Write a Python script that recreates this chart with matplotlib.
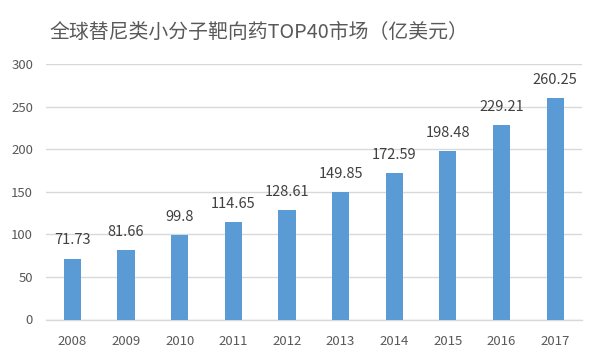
import numpy as np
import matplotlib as mplt
import matplotlib.pyplot as plt

years = ["2008", "2009", "2010", "2011", "2012", "2013", "2014", "2015", "2016", "2017"]
market = [71.73, 81.66, 99.8, 114.65, 128.61, 149.85, 172.59, 198.48, 229.21, 260.25]
labels = ["71.73", "81.66", "99.8", "114.65", "128.61", "149.85", "172.59", "198.48", "229.21", "260.25"]
title = "全球替尼类小分子靶向药TOP40市场（亿美元）"

mplt.rcParams['font.family'] = ['Noto Sans CJK SC', 'DejaVu Sans']
txt_col = '#595959'
grid_col = '#D9D9D9'

fig = plt.figure(figsize=(6, 3.6), dpi=100)
ax = fig.add_axes([0.076, 0.1125, 0.894, 0.7085])

x = np.arange(len(years))
ax.bar(x, market, width=0.32, color='#5B9BD5', zorder=3)
for xi, v, s in zip(x, market, labels):
	ax.annotate(s, xy=(xi, v), xytext=(0, 13), textcoords='offset points',
				ha='center', va='center', fontsize=10.5, color='#404040')

ax.set_xlim(-0.5, len(years) - 0.5)
ax.set_ylim(0, 300)
ax.set_yticks(range(0, 301, 50))
ax.set_xticks(x)
ax.set_xticklabels(years)
ax.grid(axis='y', color=grid_col, linewidth=1, zorder=0)
for sp in ['left', 'right', 'top']:
	ax.spines[sp].set_visible(False)
ax.spines['bottom'].set_color(grid_col)
ax.spines['bottom'].set_linewidth(1)
ax.tick_params(axis='both', length=0, labelsize=9.5, labelcolor=txt_col)
ax.tick_params(axis='x', pad=11)
ax.tick_params(axis='y', pad=9)

fig.text(0.432, 0.911, title, ha='center', va='center', fontsize=14.3, color=txt_col)

plt.savefig("out.png", dpi=100)
